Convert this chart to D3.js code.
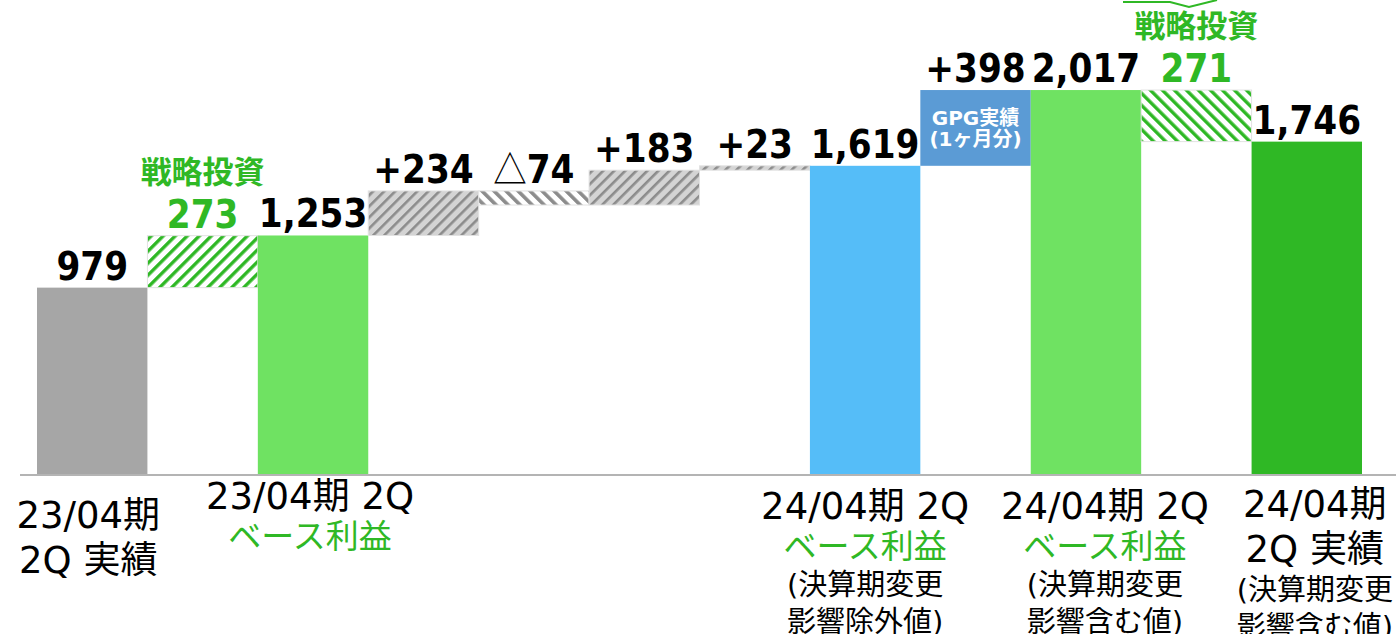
<!DOCTYPE html>
<html>
<head>
<meta charset="utf-8">
<script src="https://cdn.jsdelivr.net/npm/d3@7"></script>
<style>
  body { margin: 0; background: #fff; }
  svg { display: block; }
  text { font-family: "DejaVu Sans", "Noto Sans CJK JP", sans-serif; }
</style>
</head>
<body>
<script>
// waterfall steps
var steps = ["23/04期 2Q 実績", "戦略投資", "23/04期 2Q ベース利益", "増減1", "増減2", "増減3", "増減4",
    "24/04期 2Q ベース利益(除外)", "GPG実績", "24/04期 2Q ベース利益(含む)", "戦略投資", "24/04期 2Q 実績"];
var values = [979, 273, 1253, 234, -74, 183, 23, 1619, 398, 2017, -271, 1746];
var kinds = ["actual", "invest", "base", "up", "down", "up", "up", "base2", "gpg", "base", "invest", "final"];
var valueLabels = ["979", "273", "1,253", "+234", "△74", "+183", "+23", "1,619", "+398", "2,017", "271", "1,746"];

// category captions under the axis
var catSteps = [0, 2, 7, 9, 11];
var catMain = [["23/04期", "2Q 実績"], ["23/04期 2Q"], ["24/04期 2Q"], ["24/04期 2Q"], ["24/04期", "2Q 実績"]];
var catSub = ["", "ベース利益", "ベース利益", "ベース利益", ""];
var catNote = [[], [], ["(決算期変更", "影響除外値)"], ["(決算期変更", "影響含む値)"], ["(決算期変更", "影響含む値)"]];

var investTitle = "戦略投資";
var gpgLines = ["GPG実績", "(1ヶ月分)"];

var width = 1396, height = 634;
var green = "#2fb825";

var svg = d3.select("body").append("svg")
    .attr("width", width)
    .attr("height", height);

var x = d3.scaleBand()
    .domain(d3.range(values.length))
    .range([37, 1362])
    .padding(0);

var y = d3.scaleLinear()
    .domain([0, 2490])
    .range([474, 0]);

// running totals -> bar ends
var bars = [];
var run = 0;
values.forEach(function (v, i) {
    var k = kinds[i];
    var lo, hi;
    if (k == "actual" || k == "base" || k == "base2" || k == "final") {
        lo = 0; hi = v; run = v;
    } else {
        lo = Math.min(run, run + v);
        hi = Math.max(run, run + v);
        run = run + v;
    }
    bars.push({ i: i, lo: lo, hi: hi, kind: k, label: valueLabels[i] });
});

// hatch patterns
var defs = svg.append("defs");
function hatch(id, bg, fg, angle, period, stroke) {
    var p = defs.append("pattern")
        .attr("id", id)
        .attr("patternUnits", "userSpaceOnUse")
        .attr("width", period)
        .attr("height", period)
        .attr("patternTransform", "rotate(" + angle + ")");
    p.append("rect").attr("width", period).attr("height", period).attr("fill", bg);
    p.append("rect").attr("width", stroke).attr("height", period).attr("fill", fg);
}
hatch("greenUp", "#fff", green, 45, 8.5, 3.4);
hatch("greenDown", "#fff", green, -45, 8.5, 3.4);
hatch("grayUp", "#d4d4d4", "#8c8c8c", 45, 7.8, 2.6);
hatch("grayDown", "#fff", "#8c8c8c", -45, 8.5, 3.6);

function fillFor(d) {
    if (d.kind == "actual") return "#a6a6a6";
    if (d.kind == "base") return "#6fe262";
    if (d.kind == "base2") return "#55bdf8";
    if (d.kind == "final") return "#2fb825";
    if (d.kind == "gpg") return "#5b9bd5";
    if (d.kind == "invest") return d.i < 5 ? "url(#greenUp)" : "url(#greenDown)";
    if (d.kind == "down") return "url(#grayDown)";
    return "url(#grayUp)";
}

// axis line
svg.append("line")
    .attr("x1", 20).attr("x2", width)
    .attr("y1", y(0) + 1).attr("y2", y(0) + 1)
    .attr("stroke", "#b4b4b4")
    .attr("stroke-width", 2);

svg.selectAll("rect.bar")
    .data(bars)
    .enter().append("rect")
    .attr("class", "bar")
    .attr("x", function (d) { return x(d.i); })
    .attr("width", x.bandwidth())
    .attr("y", function (d) { return y(d.hi); })
    .attr("height", function (d) { return y(d.lo) - y(d.hi); })
    .attr("fill", fillFor)
    .attr("stroke", function (d) {
        return (d.kind == "invest" || d.kind == "up" || d.kind == "down") ? "#e2e2e2" : "none";
    })
    .attr("stroke-width", 1);

// value labels (squeezed a little so the wide glyphs look like the original font)
svg.selectAll("text.value")
    .data(bars)
    .enter().append("text")
    .attr("class", "value")
    .attr("transform", function (d) {
        return "translate(" + (x(d.i) + x.bandwidth() / 2) + "," + (y(d.hi) - 8) + ") scale(0.88,1)";
    })
    .attr("text-anchor", "middle")
    .attr("font-size", 39)
    .attr("font-weight", "bold")
    .attr("fill", function (d) { return d.kind == "invest" ? green : "#000"; })
    .each(function (d) {
        var t = d3.select(this);
        if (d.kind == "down") {
            t.append("tspan")
                .attr("font-weight", "normal")
                .attr("font-family", "Noto Sans CJK JP")
                .attr("font-size", 38)
                .text(d.label.charAt(0));
            t.append("tspan").text(d.label.slice(1));
        } else {
            t.text(d.label);
        }
    });

// 戦略投資 titles
svg.selectAll("text.invest")
    .data(bars.filter(function (d) { return d.kind == "invest"; }))
    .enter().append("text")
    .attr("class", "invest")
    .attr("x", function (d) { return x(d.i) + x.bandwidth() / 2; })
    .attr("y", function (d) { return y(d.hi) - 53; })
    .attr("text-anchor", "middle")
    .attr("font-size", 31)
    .attr("font-weight", "bold")
    .attr("fill", green)
    .text(investTitle);

// GPG text inside its box
var gpg = bars.filter(function (d) { return d.kind == "gpg"; })[0];
gpgLines.forEach(function (s, j) {
    svg.append("text")
        .attr("x", x(gpg.i) + x.bandwidth() / 2)
        .attr("y", y(gpg.hi) + 35 + j * 21)
        .attr("text-anchor", "middle")
        .attr("font-size", 20)
        .attr("font-weight", "bold")
        .attr("fill", "#fff")
        .text(s);
});

// callout edge at the top (cut off by the frame)
svg.append("path")
    .attr("d", "M1123,2 L1170,2 L1189,7 L1217,0")
    .attr("fill", "none")
    .attr("stroke", green)
    .attr("stroke-width", 2);

// category captions
var capTop = [528, 509, 519, 519, 517];
var capShift = [-4, -3, 0, 19, 8];
catSteps.forEach(function (s, c) {
    var cx = x(s) + x.bandwidth() / 2 + capShift[c];
    var yy = capTop[c];
    catMain[c].forEach(function (line, j) {
        svg.append("text")
            .attr("x", cx).attr("y", yy)
            .attr("text-anchor", "middle")
            .attr("font-size", 37)
            .attr("fill", "#000")
            .text(line);
        yy += 45;
    });
    if (catSub[c]) {
        yy = yy - 45 + 39;
        svg.append("text")
            .attr("x", cx).attr("y", yy)
            .attr("text-anchor", "middle")
            .attr("font-size", 33)
            .attr("fill", green)
            .text(catSub[c]);
        yy += 37;
    } else {
        yy = yy - 45 + 38;
    }
    catNote[c].forEach(function (line) {
        svg.append("text")
            .attr("x", cx).attr("y", yy)
            .attr("text-anchor", "middle")
            .attr("font-size", 29)
            .attr("fill", "#000")
            .text(line);
        yy += 37;
    });
});
</script>
</body>
</html>
